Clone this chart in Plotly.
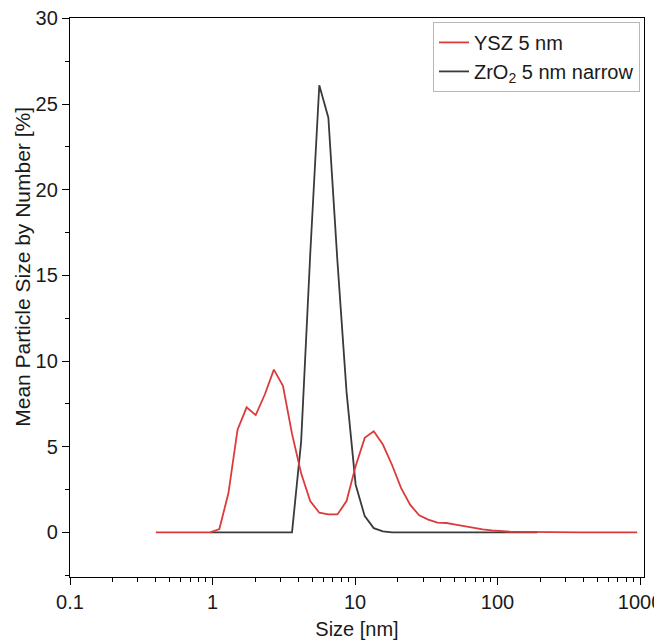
import plotly.graph_objects as go

# Size bins [nm]
sizes = [0.4, 0.4632, 0.5365, 0.6213, 0.7195, 0.8332, 0.965, 1.117, 1.294, 1.499,
         1.736, 2.010, 2.328, 2.696, 3.122, 3.615, 4.187, 4.849, 5.615, 6.503,
         7.531, 8.721, 10.10, 11.70, 13.54, 15.69, 18.17, 21.04, 24.36, 28.21,
         32.67, 37.84, 43.82, 50.75, 58.77, 68.06, 78.82, 91.28, 105.7, 122.4,
         141.8, 164.2, 190.1, 220.2, 255.0, 295.3, 342.0, 396.1, 458.7, 531.2,
         615.1, 712.4, 825.0, 955.4]

ysz_5nm = [0, 0, 0, 0, 0, 0, 0, 0.2, 2.3, 6.0,
           7.3, 6.85, 8.05, 9.5, 8.55, 5.75, 3.45, 1.83, 1.15, 1.05,
           1.05, 1.83, 3.87, 5.52, 5.9, 5.13, 3.95, 2.6, 1.62, 1.0,
           0.75, 0.57, 0.55, 0.45, 0.35, 0.25, 0.18, 0.12, 0.07, 0.04,
           0.03, 0.02, 0.01, 0, 0, 0, 0, 0, 0, 0,
           0, 0, 0, 0]

zro2_5nm_narrow = [None, None, None, None, None, None, 0, 0, 0, 0,
                   0, 0, 0, 0, 0, 0, 5.3, 16.2, 26.1, 24.2,
                   15.8, 8.2, 2.8, 0.95, 0.25, 0.06, 0, 0, 0, 0,
                   0, 0, 0, 0, 0, 0, 0, 0, 0, 0,
                   0, 0, 0, None, None, None, None, None, None, None,
                   None, None, None, None]

x_tickvals = [0.1, 1, 10, 100, 1000]
x_ticktext = ["0.1", "1", "10", "100", "1000"]
y_title = "Mean Particle Size by Number [%]"
x_title = "Size [nm]"

FONT = "Liberation Sans, Arial, sans-serif"
TXT = "#1a1a1a"

fig = go.Figure()
fig.add_trace(go.Scatter(x=sizes, y=zro2_5nm_narrow, mode="lines",
                         name="ZrO<sub>2</sub> 5 nm narrow",
                         line=dict(color="#3a3a3a", width=1.8),
                         connectgaps=False, legendrank=2))
fig.add_trace(go.Scatter(x=sizes, y=ysz_5nm, mode="lines", name="YSZ 5 nm",
                         line=dict(color="#dc3b3b", width=1.8), legendrank=1))

# page body adds an 8px offset, so the figure is sized to fill the rest
fig.update_layout(
    width=654, height=632,
    margin=dict(l=62, r=18, t=10, b=63),
    paper_bgcolor="white", plot_bgcolor="white",
    font=dict(family=FONT, size=20, color=TXT),
    showlegend=True,
    legend=dict(x=0.993, y=0.993, xanchor="right", yanchor="top",
                bgcolor="white", bordercolor="#b8b8b8", borderwidth=1,
                font=dict(family=FONT, size=20, color=TXT),
                tracegroupgap=0, itemwidth=30),
    annotations=[dict(text=y_title, textangle=-90, xref="paper", yref="y",
                      x=-0.082, y=15.5, xanchor="center", yanchor="middle",
                      showarrow=False, font=dict(family=FONT, size=21, color=TXT))],
)
fig.update_xaxes(
    type="log", range=[-1, 3.028], automargin=False,
    title=dict(text=x_title, font=dict(size=20), standoff=12),
    tickvals=x_tickvals, ticktext=x_ticktext,
    ticks="outside", ticklen=7, tickwidth=1.3, tickcolor="black",
    tickfont=dict(size=20), ticklabeloverflow="allow",
    showline=True, linecolor="black", linewidth=1.3, mirror=True,
    showgrid=False, zeroline=False,
    minor=dict(ticks="outside", ticklen=4, tickwidth=1.1, tickcolor="black",
               dtick="D1", showgrid=False),
)
fig.update_yaxes(
    range=[-2.6, 30.02], automargin=False,
    tick0=0, dtick=5,
    ticks="outside", ticklen=7, tickwidth=1.3, tickcolor="black",
    tickfont=dict(size=20), ticklabeloverflow="allow",
    showline=True, linecolor="black", linewidth=1.3, mirror=True,
    showgrid=False, zeroline=False,
    minor=dict(ticks="outside", ticklen=4, tickwidth=1.1, tickcolor="black",
               dtick=2.5, tick0=0, showgrid=False),
)

fig.write_html("out.html")
